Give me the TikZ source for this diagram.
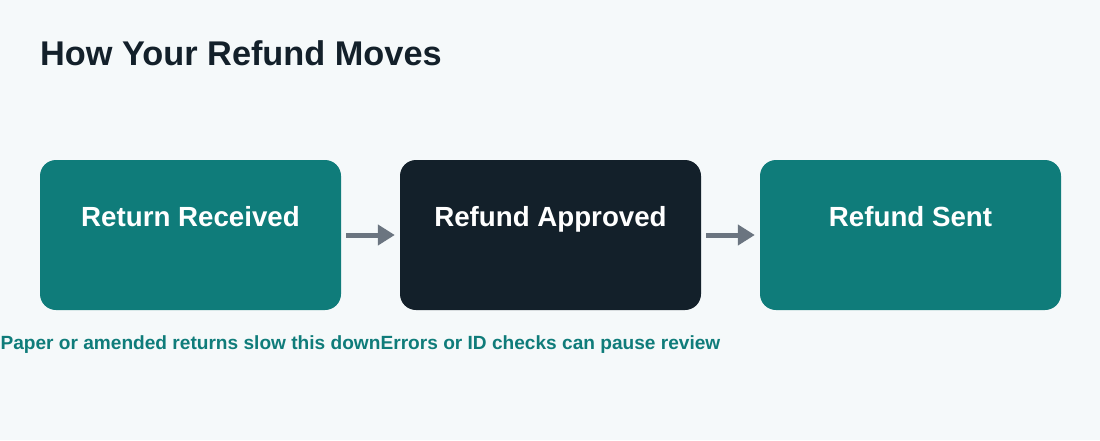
\documentclass[tikz,border=0pt]{standalone}
\usepackage{fontspec}
\setmainfont{Liberation Sans}
\usetikzlibrary{arrows.meta}
\definecolor{bg}{HTML}{F5F9FA}
\definecolor{teal}{HTML}{0F7C7A}
\definecolor{ink}{HTML}{13202A}
\definecolor{arr}{HTML}{6B7580}
\tikzset{
  stepbox/.style={rounded corners=16pt, minimum width=301pt, minimum height=150pt, inner sep=0pt, draw=none},
  boxtext/.style={text=white, font=\fontsize{27.7}{32}\selectfont\bfseries, anchor=base, inner sep=0pt},
  caption/.style={text=teal, font=\fontsize{19.1}{22}\selectfont\bfseries, anchor=base, inner sep=0pt},
  flow/.style={draw=arr, line width=5pt, -{Triangle[length=17pt, width=20pt]}},
}
\begin{document}
\begin{tikzpicture}[x=1pt, y=-1pt]
\path[fill=bg] (0,0) rectangle (1100,440);
\useasboundingbox (0,0) rectangle (1100,440);
\node[anchor=base west, inner sep=0pt, text=ink, font=\fontsize{34.3}{41}\selectfont\bfseries] (title) at (40,65) {How Your Refund Moves};
\node[stepbox, fill=teal] (b1) at (190.5,235) {};
\node[stepbox, fill=ink] (b2) at (550.5,235) {};
\node[stepbox, fill=teal] (b3) at (910.5,235) {};
\node[boxtext] (t1) at (190.5,226) {Return Received};
\node[boxtext] (t2) at (550.5,226) {Refund Approved};
\node[boxtext] (t3) at (910.5,226) {Refund Sent};
\node[caption] (c1) at (190.5,349) {Paper or amended returns slow this down};
\node[caption] (c2) at (550.5,349) {Errors or ID checks can pause review};
\draw[flow] ([xshift=5pt]b1.east) -- ([xshift=-5pt]b2.west);
\draw[flow] ([xshift=5pt]b2.east) -- ([xshift=-5pt]b3.west);
\end{tikzpicture}
\end{document}
